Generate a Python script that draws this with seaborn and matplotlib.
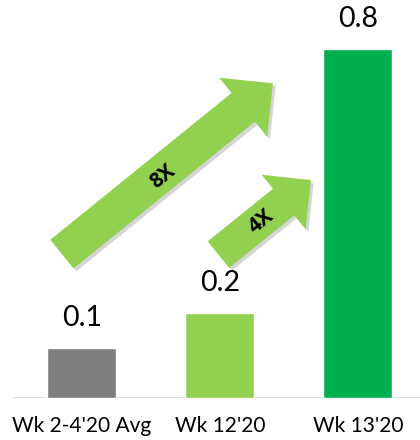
import matplotlib
matplotlib.use("Agg")
import matplotlib.pyplot as plt
import matplotlib.patheffects as pe
from matplotlib.patches import FancyArrowPatch
import seaborn as sns
import pandas as pd

categories = ["Wk 2-4'20 Avg", "Wk 12'20", "Wk 13'20"]
values = [0.115, 0.195, 0.8]
value_labels = ["0.1", "0.2", "0.8"]
colors = ["#7F7F7F", "#92D050", "#00B050"]
growth_labels = ["8X", "4X"]

sns.set_theme(style="white")
plt.rcParams['font.family'] = ['Lato', 'DejaVu Sans']

df = pd.DataFrame({"cat": categories, "val": values})

fig = plt.figure(figsize=(4.2, 4.4), dpi=100)
ax = fig.add_axes([13/420, 42/440, 1 - 13/420, 398/440])
sns.barplot(data=df, x="cat", y="val", hue="cat", palette=colors,
            width=0.5, legend=False, ax=ax, saturation=1, zorder=3)

ax.set_xlim(-0.5, 2.45)
ax.set_ylim(0, 0.913)
for s in ax.spines.values():
    s.set_visible(False)
ax.axhline(0, color="#D9D9D9", lw=2, zorder=2,
           path_effects=[pe.SimpleLineShadow(offset=(0, -1.5), shadow_color="#BBBBBB", alpha=0.5), pe.Normal()])
ax.set_yticks([])
ax.set_xlabel("")
ax.set_ylabel("")
ax.tick_params(axis="x", length=0, pad=13, labelsize=15, colors="black")

for i, (v, lab) in enumerate(zip(values, value_labels)):
    ax.annotate(lab, (i, v), xytext=(0, 21.6), textcoords="offset points",
                ha="center", va="center", fontsize=20.5, color="black")

# growth arrows (from first bar towards third, from second towards third)
arrows = [((-0.145, 0.330), (1.384, 0.722), 26.6, 54.7, 27.5, growth_labels[0], (0.585, 0.508)),
          ((0.989, 0.329), (1.659, 0.500), 24.5, 50.4, 25.2, growth_labels[1], (1.297, 0.404))]
for (a, b, tw, hw, hl, txt, tpos) in arrows:
    p = FancyArrowPatch(a, b, arrowstyle=f"simple,tail_width={tw},head_width={hw},head_length={hl}",
                        mutation_scale=1, shrinkA=0, shrinkB=0, color="#92D050", lw=0, zorder=4,
                        path_effects=[pe.SimplePatchShadow(offset=(2, -2), shadow_rgbFace="#888888", alpha=0.35), pe.Normal()])
    ax.add_patch(p)
    ax.text(tpos[0], tpos[1], txt, rotation=39, ha="center", va="center",
            fontsize=15, fontweight="bold", color="black", zorder=5,
            rotation_mode="anchor", family=["Open Sans", "DejaVu Sans"])

fig.savefig("out.png", dpi=100)
